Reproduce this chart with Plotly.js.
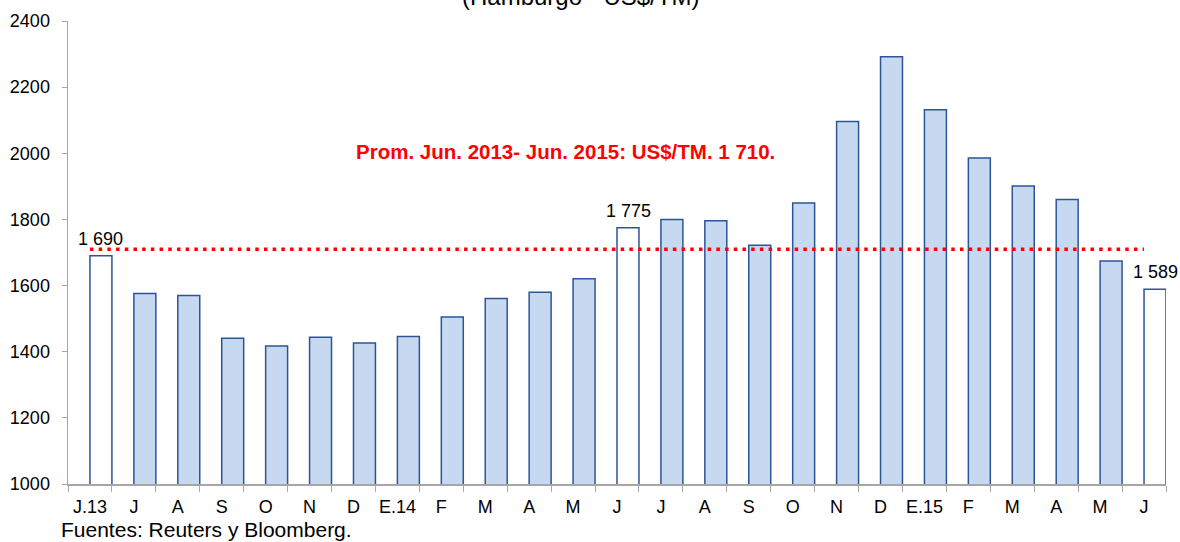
<!DOCTYPE html>
<html>
<head>
<meta charset="utf-8">
<script src="https://cdn.plot.ly/plotly-3.0.1.min.js"></script>
<style>
  html, body { margin: 0; padding: 0; background: #ffffff; }
  #chart { width: 1180px; height: 542px; }
</style>
</head>
<body>
<div id="chart"></div>
<script>
// Month labels (June 2013 - June 2015)
const tickLabels = ["J.13","J","A","S","O","N","D","E.14","F","M","A","M","J","J","A","S","O","N","D","E.15","F","M","A","M","J"];
// Price, Hamburgo US$/TM
const prices = [1690,1576,1570,1441,1417,1444,1426,1446,1505,1561,1580,1621,1775,1800,1796,1722,1850,2096,2292,2132,1986,1901,1860,1674,1589];
// Highlighted months (white bars with value labels)
const highlighted = [0, 12, 24];
const highlightText = ["1 690", "1 775", "1 589"];
// Average Jun 2013 - Jun 2015
const average = 1710;
const averageText = "Prom. Jun. 2013- Jun. 2015: US$/TM. 1 710.";
const titleText = "(Hamburgo - US$/TM)";
const sourceText = "Fuentes: Reuters y Bloomberg.";

const idx = tickLabels.map((_, i) => i);
const fills = idx.map(i => highlighted.includes(i) ? "#ffffff" : "#c6d9f1");

const font = "Liberation Sans, Arial, sans-serif";

const traces = [
  {
    type: "bar",
    x: idx,
    y: prices,
    marker: { color: fills, line: { color: "#2c5597", width: 1.5 } },
    width: 0.5,
    offset: 0,
    hoverinfo: "x+y",
    showlegend: false
  },
  {
    type: "scatter",
    mode: "lines",
    x: [idx[0], idx[idx.length - 1]],
    y: [average, average],
    line: { color: "#ff0000", width: 3.5, dash: "3.5px,5.2px" },
    hoverinfo: "skip",
    showlegend: false
  }
];

const labelAnnotations = highlighted.map((i, k) => ({
  text: highlightText[k],
  xref: "x", yref: "y",
  x: i, y: prices[i],
  xshift: 11,
  yshift: 5,
  xanchor: "center", yanchor: "bottom",
  showarrow: false,
  font: { family: font, size: 18, color: "#000000" }
}));

const layout = {
  width: 1180,
  height: 542,
  margin: { l: 68, r: 14, t: 21, b: 58 },
  paper_bgcolor: "#ffffff",
  plot_bgcolor: "#ffffff",
  font: { family: font, size: 18, color: "#000000" },
  bargap: 0.5,
  xaxis: {
    range: [-0.5, 24.5],
    tickmode: "array",
    tickvals: idx,
    ticktext: tickLabels,
    ticks: "",
    showgrid: false,
    zeroline: false,
    showline: true,
    linecolor: "#a6a6a6",
    linewidth: 1.5,
    tickfont: { family: font, size: 18, color: "#000000" },
    ticklabelstandoff: 6,
    minor: { tickmode: "linear", tick0: -0.5, dtick: 1, ticks: "outside", ticklen: 6, tickcolor: "#a6a6a6", tickwidth: 1, showgrid: false },
    fixedrange: true
  },
  yaxis: {
    range: [1000, 2400],
    dtick: 200,
    ticks: "outside",
    ticklen: 5,
    tickcolor: "#a6a6a6",
    showgrid: false,
    zeroline: false,
    showline: true,
    linecolor: "#a6a6a6",
    linewidth: 1.5,
    tickfont: { family: font, size: 18, color: "#000000" },
    ticklabelstandoff: 8,
    fixedrange: true
  },
  annotations: labelAnnotations.concat([
    {
      text: titleText,
      xref: "paper", yref: "paper",
      x: 0.467, y: 1.0,
      yshift: 9,
      xanchor: "center", yanchor: "bottom",
      showarrow: false,
      font: { family: font, size: 24, color: "#000000" }
    },
    {
      text: "<b>" + averageText + "</b>",
      xref: "paper", yref: "y",
      x: 0.4534, y: 2005,
      xanchor: "center", yanchor: "middle",
      showarrow: false,
      font: { family: font, size: 20.5, color: "#ff0000" }
    },
    {
      text: sourceText,
      xref: "paper", yref: "paper",
      x: -0.008, y: -0.125,
      yshift: -1,
      xanchor: "left", yanchor: "bottom",
      showarrow: false,
      font: { family: font, size: 21, color: "#000000" }
    }
  ])
};

Plotly.newPlot("chart", traces, layout, { displayModeBar: false, staticPlot: true });
</script>
</body>
</html>
